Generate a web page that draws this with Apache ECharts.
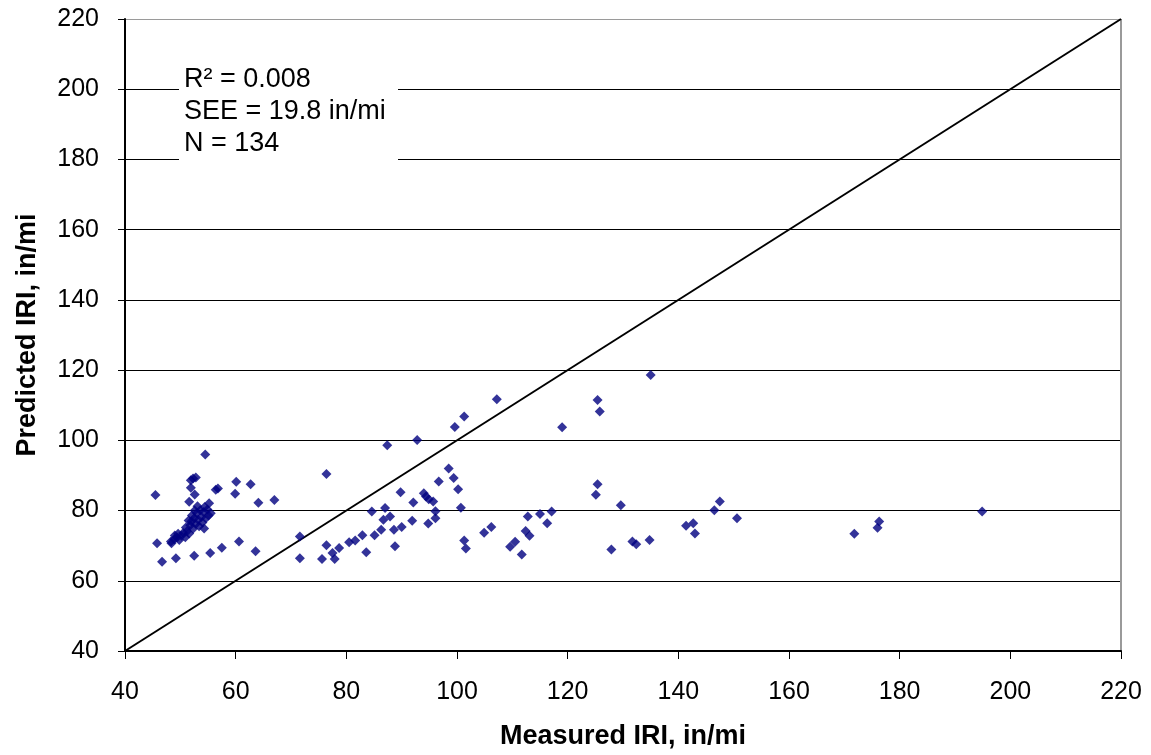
<!DOCTYPE html>
<html>
<head>
<meta charset="utf-8">
<script src="https://cdn.jsdelivr.net/npm/echarts@6/dist/echarts.min.js"></script>
<style>
  html, body { margin: 0; padding: 0; background: #fff; }
  #chart { width: 1151px; height: 755px; }
</style>
</head>
<body>
<div id="chart"></div>
<script>
// measured vs predicted IRI, in/mi
const measured = [
  54.5, 45.5, 51.9, 52.3, 52.8, 51.9, 52.6, 51.6, 56.4, 56.8,
  60.1, 59.9, 62.7, 64.1, 67.0, 55.2, 55.5, 45.8, 48.4, 46.7,
  49.2, 52.5, 55.4, 57.5, 60.6, 63.6,
  71.6, 71.6, 75.6, 76.4, 76.4, 77.5, 77.9, 78.7, 80.5, 81.6,
  82.9, 83.6, 84.6, 85.1, 86.3, 86.7, 87.0, 87.4, 87.9, 88.6,
  88.8, 89.8, 90.0, 91.9, 92.1, 92.8, 94.0, 94.4, 94.9, 95.7,
  94.8, 96.1, 96.1, 96.7, 98.5, 99.4, 99.6, 100.2, 100.7, 101.3,
  101.3, 101.6, 104.9, 106.2, 107.2, 109.6, 110.5, 111.7, 112.4, 113.1,
  112.8, 115.0, 116.3, 117.1,
  119.0, 125.4, 125.8, 125.4, 125.1, 127.9, 129.6, 131.7, 132.4, 134.8,
  135.0, 141.4, 142.7, 143.0, 146.5, 147.5, 150.6,
  171.8, 176.0, 176.3, 194.9,
  // dense cluster
  48.3, 48.9, 49.4, 49.0, 49.8, 50.2, 50.5, 49.6, 50.9, 51.2,
  51.0, 51.6, 51.8, 52.0, 52.3, 52.5, 52.1, 52.8, 53.0, 53.2,
  53.4, 53.6, 53.8, 54.0, 54.2, 54.4, 54.6, 54.9, 55.1, 53.1,
  52.6, 51.5, 54.3
]
const predicted = [
  96.0, 84.4, 88.6, 89.1, 89.4, 86.5, 84.6, 82.5, 85.9, 86.3,
  88.2, 84.8, 87.5, 82.2, 83.0, 82.1, 79.2, 70.7, 70.7, 65.4,
  66.4, 67.1, 67.9, 69.4, 71.2, 68.4,
  72.6, 66.4, 66.2, 90.4, 70.1, 67.9, 66.2, 69.3, 71.0, 71.5,
  73.0, 68.1, 79.7, 73.0, 74.5, 77.4, 80.7, 98.6, 78.3, 74.5,
  69.8, 85.2, 75.3, 77.1, 82.3, 100.1, 84.9, 84.0, 83.2, 82.6,
  76.3, 79.8, 77.8, 88.3, 92.0, 89.3, 103.8, 86.1, 80.8, 106.8,
  71.5, 69.2, 73.7, 75.3, 111.7, 69.7, 71.1, 67.5, 74.2, 72.8,
  78.3, 79.0, 76.4, 79.7,
  103.7, 111.5, 108.2, 87.5, 84.5, 68.9, 81.5, 71.2, 70.4, 71.6,
  118.6, 75.7, 76.4, 73.5, 80.1, 82.6, 77.8,
  73.4, 75.1, 76.9, 79.7,
  71.2, 71.8, 72.3, 72.9, 71.6, 72.8, 73.6, 73.4, 72.4, 74.1,
  75.2, 73.5, 75.8, 76.9, 74.8, 77.8, 78.6, 76.2, 79.3, 77.4,
  75.5, 80.1, 78.2, 76.6, 79.6, 81.0, 77.8, 80.3, 78.6, 81.2,
  80.0, 77.2, 74.9
]
const equality = [[40, 40], [220, 220]]
const statsLines = ['R² = 0.008', 'SEE = 19.8 in/mi', 'N = 134']

const points = measured.map((m, i) => [m, predicted[i]])

const chart = echarts.init(document.getElementById('chart'))
const font = 'Arial, "Liberation Sans", sans-serif'

// grid lines black, top/right border gray
const yGridColors = ['#000', '#000', '#000', '#000', '#000', '#000', '#000', '#000', '#000', '#9a9a9a']
const xGridColors = ['transparent', 'transparent', 'transparent', 'transparent', 'transparent',
  'transparent', 'transparent', 'transparent', 'transparent', '#9a9a9a']

chart.setOption({
  animation: false,
  backgroundColor: '#fff',
  grid: { left: 125, right: 30, top: 19, bottom: 103 },
  xAxis: {
    type: 'value',
    min: 40,
    max: 220,
    interval: 20,
    name: 'Measured IRI, in/mi',
    nameLocation: 'middle',
    nameGap: 72,
    nameTextStyle: { fontFamily: font, fontSize: 27, fontWeight: 'bold', color: '#000' },
    axisLine: { lineStyle: { color: '#000', width: 2 } },
    axisTick: { length: 8, lineStyle: { color: '#000', width: 1 } },
    axisLabel: { fontFamily: font, fontSize: 25, color: '#000', margin: 29 },
    splitLine: { show: true, lineStyle: { color: xGridColors, width: 2 } }
  },
  yAxis: {
    type: 'value',
    min: 40,
    max: 220,
    interval: 20,
    name: 'Predicted IRI, in/mi',
    nameLocation: 'middle',
    nameGap: 84,
    nameTextStyle: { fontFamily: font, fontSize: 27, fontWeight: 'bold', color: '#000' },
    axisLine: { show: true, lineStyle: { color: '#000', width: 2 } },
    axisTick: { show: true, length: 7, lineStyle: { color: '#000', width: 1 } },
    axisLabel: { fontFamily: font, fontSize: 25, color: '#000', margin: 26 },
    splitLine: { show: true, lineStyle: { color: yGridColors, width: 1 } }
  },
  graphic: [
    {
      type: 'rect',
      shape: { x: 179, y: 60, width: 219, height: 104 },
      style: { fill: '#fff' },
      z: 10
    },
    {
      type: 'text',
      left: 184,
      top: 64,
      z: 11,
      style: {
        text: statsLines.join('\n'),
        font: '27px ' + font,
        lineHeight: 32,
        fill: '#000'
      }
    }
  ],
  series: [
    {
      type: 'line',
      data: equality,
      symbol: 'none',
      lineStyle: { color: '#000', width: 2 },
      z: 2
    },
    {
      type: 'scatter',
      data: points,
      symbol: 'diamond',
      symbolSize: 10,
      itemStyle: { color: '#000080' },
      z: 3
    }
  ]
})
</script>
</body>
</html>
